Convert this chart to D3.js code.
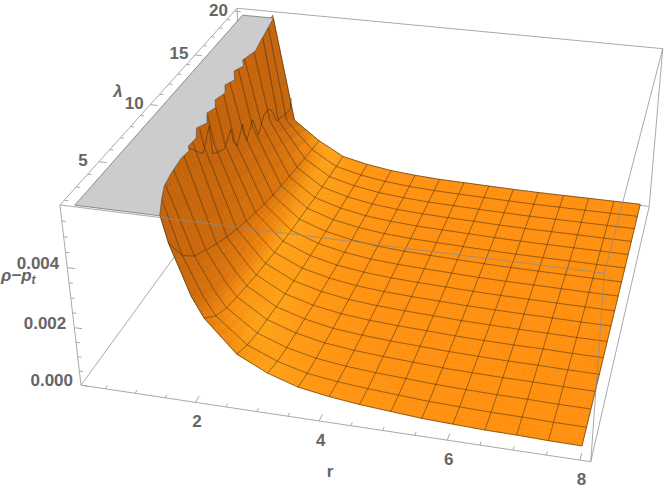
<!DOCTYPE html>
<html><head><meta charset="utf-8">
<script src="https://cdn.jsdelivr.net/npm/d3@7"></script>
<style>html,body{margin:0;padding:0;background:#fff}svg{display:block}text{font-family:"Liberation Sans",Arial,sans-serif;font-weight:bold;fill:#666}</style>
</head><body><svg id="c" width="664" height="489"></svg>
<script>
const rValues=[0.25,0.73,1.21,1.70,2.0,2.18,2.67,3.15,3.63,4.12,4.60,5.09,5.57,6.05,6.54,7.02,7.50,8.0];
const meshRows=[2,3,5,6,7,8,9,10,11,12,13,14,15,16];
const lambdaValues=[2,3.125,4.25,5.375,6.5,7.625,8.75,9.875,11,12.125,13.25,14.375,15.5,16.625,17.75,18.875,20];
// rho - p_t, in units of 0.001: one row per r, one column per lambda
const zTable=[
[16,15,14.5,14,13.5,13,12.5,12,12,11.5,11,11,10.5,10.5,10.5,10,9.5],
[14,13,12,11,10.5,10,10.5,10.3,9.3,9.2,8.1,8.4,7.7,8.0,9.0,8.2,7.35],
[9.2,7.4,6.4,6.15,6.1,5.9,5.3,4.9,4.5,4.2,4.0,3.8,3.5,3.2,2.8,2.4,2.0],
[5.04,4.14,3.61,3.31,3.01,2.75,2.54,2.33,2.16,1.99,1.86,1.75,1.64,1.54,1.45,1.36,1.28],
[3.4,2.85,2.5,2.3,2.12,1.95,1.84,1.69,1.57,1.45,1.36,1.28,1.2,1.13,1.07,1.0,.95],
[2.74,2.26,1.98,1.82,1.67,1.53,1.42,1.31,1.22,1.13,1.06,1.0,.94,.89,.84,.79,.75],
[1.68,1.41,1.25,1.16,1.06,.98,.92,.86,.81,.76,.72,.68,.65,.62,.59,.56,.54],
[1.18,.99,.88,.82,.76,.70,.66,.62,.58,.55,.52,.50,.47,.45,.435,.415,.40],
[.85,.72,.65,.61,.56,.53,.50,.47,.445,.42,.40,.385,.37,.355,.345,.33,.32],
[.68,.58,.52,.49,.46,.43,.41,.385,.365,.35,.335,.32,.31,.30,.29,.28,.27],
[.56,.49,.44,.42,.39,.37,.355,.335,.32,.31,.30,.29,.28,.27,.265,.255,.25],
[.48,.42,.385,.365,.345,.33,.315,.30,.29,.28,.27,.26,.255,.25,.24,.235,.23],
[.40,.355,.33,.31,.30,.285,.275,.265,.255,.245,.24,.235,.23,.225,.22,.215,.21],
[.36,.32,.30,.285,.275,.26,.255,.245,.24,.23,.225,.22,.215,.21,.205,.20,.20],
[.32,.29,.275,.265,.255,.245,.24,.235,.23,.225,.22,.215,.21,.21,.205,.20,.20],
[.31,.285,.27,.26,.25,.245,.235,.23,.225,.22,.215,.215,.21,.21,.205,.20,.20],
[.28,.26,.25,.245,.235,.23,.225,.22,.22,.215,.21,.21,.21,.205,.205,.20,.20],
[.27,.255,.245,.24,.23,.225,.225,.22,.215,.215,.21,.21,.205,.205,.205,.20,.20]];
// where the surface leaves the clipping plane: [r, lambda]
const clipEdge=[[1.594,2],[1.442,3.09],[1.321,4.06],[1.27,5.08],[1.24,6.28],[1.27,6.89],[1.2,7.26],[1.22,7.97],[1.098,8.78],[1.2,9.29],[1.068,10.12],[1.139,10.64],[1.027,11.34],[1.098,12.04],[0.987,12.77],[1.078,13.32],[0.946,14.16],[1.037,14.74],[0.936,15.3],[1.027,16.34],[0.977,17.4],[0.865,20]];
// the jagged mesh line at the third r value: [lambda, z]
const jaggedLine=[[7.13,5.88],[8.61,5.1],[9.43,5.73],[9.61,4.7],[10.35,4.5],[10.91,4.36],[11.77,4.74],[11.97,4.2],[12.36,3.9],[13.15,4.4],[13.56,3.65],[14.38,4.1],[15.0,3.3],[15.85,3.74],[16.49,3.72],[16.93,3.48],[17.48,2.9],[19.42,2.62],[19.65,3.0]];
const rTicks=[2,4,6,8], lambdaTicks=[5,10,15,20], zTicks=[0,2,4];
const rMinor=d3.range(0.5,8.01,0.5), lambdaMinor=d3.range(2,20.01,1), zMinor=d3.range(0,5.76,0.5);
const zClip=5.88;

// box corners on the page
const corners=[[0,0,0,81,385],[1,0,0,591,462],[0,0,1,60,205],[1,0,1,604,273],[0,1,1,237,8],[1,1,0,649,206],[1,1,1,663,49],[0,1,0,245,160]];
function fit(cs){const A=[],b=[];cs.forEach(([X,Y,Z,x,y])=>{
 A.push([X,Y,Z,1,0,0,0,0,-x*X,-x*Y,-x*Z]);b.push(x);
 A.push([0,0,0,0,X,Y,Z,1,-y*X,-y*Y,-y*Z]);b.push(y);});
 const n=11,M=d3.range(n).map(i=>d3.range(n+1).map(j=>{let s=0;A.forEach((row,k)=>{s+=row[i]*(j<n?row[j]:b[k]);});return s;}));
 for(let i=0;i<n;i++){let p=i;for(let k=i+1;k<n;k++)if(Math.abs(M[k][i])>Math.abs(M[p][i]))p=k;[M[i],M[p]]=[M[p],M[i]];
  for(let k=0;k<n;k++)if(k!==i){const f=M[k][i]/M[i][i];for(let j=i;j<=n;j++)M[k][j]-=f*M[i][j];}}
 return M.map((r,i)=>r[n]/r[i]);}
const P=fit(corners);
const rS=d3.scaleLinear([0.09,8.16],[0,1]), lS=d3.scaleLinear([1.64,20.36],[0,1]), zS=d3.scaleLinear([0,6],[0,1]);
function cube(u,v,w){const d=P[8]*u+P[9]*v+P[10]*w+1;return [(P[0]*u+P[1]*v+P[2]*w+P[3])/d,(P[4]*u+P[5]*v+P[6]*w+P[7])/d];}
const pr=(r,l,z)=>cube(rS(r),lS(l),zS(z));
const svg=d3.select('#c'), line=d3.line(), closed=pts=>line(pts)+'Z';
const edge=(g,a,b,c='#aaa')=>g.append('path').attr('d',line([cube(...a),cube(...b)])).attr('stroke',c).attr('fill','none').attr('stroke-width',1);

const back=svg.append('g');
[[[0,0,0],[0,1,0]],[[0,1,0],[1,1,0]],[[0,1,0],[0,1,1]],[[0,1,1],[1,1,1]],[[1,1,1],[1,1,0]]].forEach(e=>edge(back,e[0],e[1]));

// shading by steepness
const shade=d3.scaleLinear().domain([0,0.5,1.5,2.5,4,7,12]).range(['#FF8F0F','#FF9612','#FFA518','#F68C0E','#DE760B','#CC680A','#C0600A']).clamp(true);
const K=rValues.length,J=lambdaValues.length;
const slope=(k,j)=>{const k0=Math.max(k-1,0),k1=Math.min(k+1,K-1),j0=Math.max(j-1,0),j1=Math.min(j+1,J-1);
 const a=(zS(zTable[k1][j])-zS(zTable[k0][j]))/(rS(rValues[k1])-rS(rValues[k0]));
 const b=(zS(zTable[k][j1])-zS(zTable[k][j0]))/(lS(lambdaValues[j1])-lS(lambdaValues[j0]));
 return Math.hypot(a,b);};
const nodeColor=zTable.map((row,k)=>row.map((_,j)=>d3.rgb(shade(slope(k,j)))));
const surf=svg.append('g');
const N=4, zTop=6.0;
function clipPoly(p){const out=[];for(let i=0;i<p.length;i++){const a=p[i],b=p[(i+1)%p.length];
 if(a[2]<=zTop)out.push(a);
 if((a[2]<=zTop)!==(b[2]<=zTop)){const t=(zTop-a[2])/(b[2]-a[2]);out.push([a[0]+t*(b[0]-a[0]),a[1]+t*(b[1]-a[1]),zTop]);}}
 return out;}
for(let j=J-2;j>=0;j--)for(let k=0;k<K-1;k++){
 const val=(s,t)=>{const f=(q)=>q[k][j]*(1-s)*(1-t)+q[k+1][j]*s*(1-t)+q[k][j+1]*(1-s)*t+q[k+1][j+1]*s*t;return f(zTable);};
 const at=(s,t)=>[rValues[k]+s*(rValues[k+1]-rValues[k]),lambdaValues[j]+t*(lambdaValues[j+1]-lambdaValues[j]),val(s,t)];
 const col=(s,t)=>{const c=[nodeColor[k][j],nodeColor[k+1][j],nodeColor[k][j+1],nodeColor[k+1][j+1]],w=[(1-s)*(1-t),s*(1-t),(1-s)*t,s*t];
  const m=ch=>c.reduce((acc,q,i)=>acc+q[ch]*w[i],0);return `rgb(${m('r')|0},${m('g')|0},${m('b')|0})`;};
 for(let b=N-1;b>=0;b--)for(let a=0;a<N;a++){
  const s0=a/N,s1=(a+1)/N,t0=b/N,t1=(b+1)/N;
  const poly=clipPoly([at(s0,t0),at(s1,t0),at(s1,t1),at(s0,t1)]);
  if(poly.length<3)continue;
  const c=col((s0+s1)/2,(t0+t1)/2);
  surf.append('path').attr('d',closed(poly.map(q=>pr(...q)))).attr('fill',c).attr('stroke',c).attr('stroke-width',0.6);
 }}
const meshStyle=s=>s.attr('fill','none').attr('stroke','#3a2a10').attr('stroke-opacity',0.62).attr('stroke-width',0.85).attr('stroke-linejoin','round');
const mesh=svg.append('g');
function crop(pts){const o=[];for(let i=0;i<pts.length;i++){const a=pts[i],b=pts[i+1];
 if(a[2]<=zClip)o.push(a);
 if(b&&(a[2]<=zClip)!==(b[2]<=zClip)){const t=(zClip-a[2])/(b[2]-a[2]);o.push([a[0]+t*(b[0]-a[0]),a[1]+t*(b[1]-a[1]),zClip]);}}
 return o;}
for(let j=1;j<J-1;j++)meshStyle(mesh.append('path').attr('d',line(crop(rValues.map((r,k)=>[r,lambdaValues[j],zTable[k][j]])).map(q=>pr(...q)))));
meshRows.forEach(k=>{
 const pts=k===2?jaggedLine.map(([l,z])=>[rValues[2],l,z]):lambdaValues.map((l,j)=>[rValues[k],l,zTable[k][j]]);
 meshStyle(mesh.append('path').attr('d',line(crop(pts).map(q=>pr(...q)))));});
const outline=s=>s.attr('fill','none').attr('stroke','#221').attr('stroke-opacity',0.6).attr('stroke-width',0.9);
[crop(rValues.map((r,k)=>[r,2,zTable[k][0]])),crop(rValues.map((r,k)=>[r,20,zTable[k][J-1]])),lambdaValues.map((l,j)=>[8,l,zTable[K-1][j]])]
 .forEach(p=>outline(mesh.append('path').attr('d',line(p.map(q=>pr(...q))))));
// clipped cap
const cap=[[rValues[0],2,zClip],[rValues[0],20,zClip]].concat(clipEdge.slice().reverse().map(([r,l])=>[r,l,zClip]));
svg.append('path').attr('d',closed(cap.map(q=>pr(...q)))).attr('fill','#ccc').attr('stroke','#444').attr('stroke-opacity',0.7).attr('stroke-width',0.8);

// front box edges
const front=svg.append('g');
[[[0,0,0],[1,0,0]],[[0,0,0],[0,0,1]],[[0,0,1],[1,0,1]],[[1,0,0],[1,0,1]],[[0,0,1],[0,1,1]],[[1,0,1],[1,1,1]],[[1,0,0],[1,1,0]]].forEach(e=>edge(front,e[0],e[1],'rgba(140,140,140,0.75)'));
// ticks
const tick=(a,b)=>front.append('path').attr('d',line([cube(...a),cube(...b)])).attr('stroke','#aaa').attr('fill','none').attr('stroke-width',1);
rMinor.forEach(r=>{const u=rS(r),L=rTicks.includes(r)?0.022:0.011;tick([u,0,0],[u,L,0]);});
zMinor.forEach(z=>{const w=zS(z),L=zTicks.includes(z)?0.016:0.008;tick([0,0,w],[L,0,w]);});
lambdaMinor.forEach(l=>{const v=lS(l),L=lambdaTicks.includes(l)?0.016:0.008;tick([0,v,1],[L,v,1]);});
// labels
const lab=svg.append('g').attr('font-size',17);
rTicks.forEach(r=>{const [x,y]=cube(rS(r),0,0);lab.append('text').attr('x',x+1.5).attr('y',y+25).attr('text-anchor','middle').text(r);});
zTicks.forEach(z=>{const [x,y]=cube(0,0,zS(z));lab.append('text').attr('x',x-8).attr('y',y+1).attr('text-anchor','end').text(d3.format('.3f')(z/1000));});
lambdaTicks.forEach(l=>{const [x,y]=cube(0,lS(l),1);lab.append('text').attr('x',x-16).attr('y',y+4.5).attr('text-anchor','middle').text(l);});
lab.append('text').attr('x',118).attr('y',97).attr('text-anchor','middle').attr('font-style','italic').text('λ');
lab.append('text').attr('x',330).attr('y',477).attr('text-anchor','middle').text('r');
const yl=lab.append('text').attr('x',1).attr('y',281).attr('font-style','italic');
yl.append('tspan').text('ρ−p');yl.append('tspan').attr('dy',3).attr('font-size',12).text('t');
</script></body></html>
